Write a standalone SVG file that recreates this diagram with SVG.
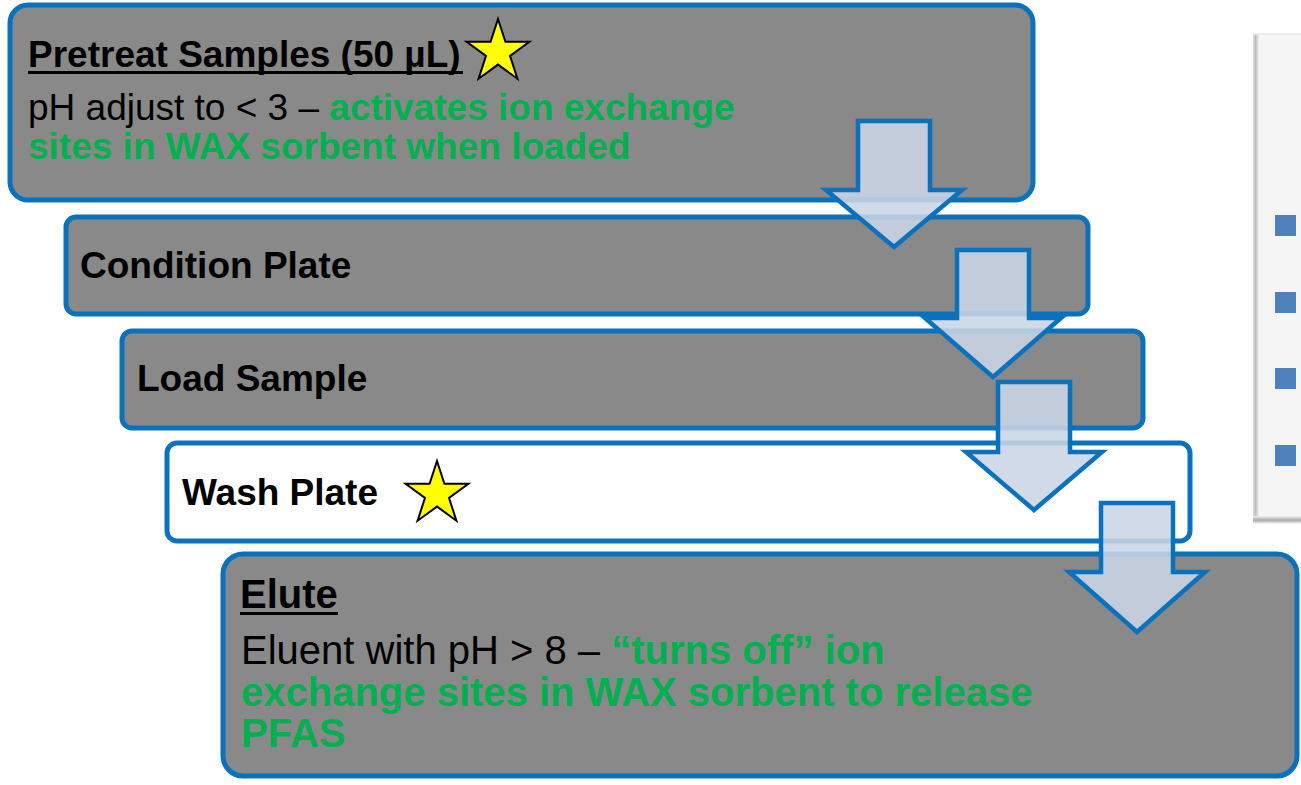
<svg xmlns="http://www.w3.org/2000/svg" width="1301" height="785" viewBox="0 0 1301 785">
  <defs>
    <style>
      .box { fill: #898989; stroke: #0a72bc; stroke-width: 5; }
      .white { fill: #ffffff; }
      .t { font-family: "Liberation Sans", Arial, sans-serif; fill: #000000; }
      .b { font-weight: bold; }
      .g { fill: #00b050; font-weight: bold; }
      .ul { fill: #000000; }
      .star { fill: #ffff00; stroke: #000000; stroke-width: 2; stroke-linejoin: miter; }
      .arrow { fill: #c9d5e6; fill-opacity: 0.88; stroke: #0a72bc; stroke-width: 4.5; stroke-linejoin: miter; }
      .bullet { fill: #4f81bd; }
    </style>
    <linearGradient id="leftShade" x1="0" y1="0" x2="1" y2="0">
      <stop offset="0" stop-color="#e2e2e2"/>
      <stop offset="0.4" stop-color="#bdbdbd"/>
      <stop offset="1" stop-color="#f2f2f2"/>
    </linearGradient>
    <linearGradient id="bottomShade" x1="0" y1="0" x2="0" y2="1">
      <stop offset="0" stop-color="#f2f2f2"/>
      <stop offset="0.6" stop-color="#a9a9a9"/>
      <stop offset="1" stop-color="#e6e6e6"/>
    </linearGradient>
  </defs>

  <rect x="0" y="0" width="1301" height="785" fill="#ffffff"/>

  <!-- right side panel -->
  <g id="side-panel">
    <rect x="1253" y="33" width="60" height="491" fill="#f5f5f5"/>
    <rect x="1253" y="33" width="60" height="2" fill="#eaeaea"/>
    <rect x="1253" y="35" width="6" height="485" fill="url(#leftShade)"/>
    <rect x="1253" y="516" width="60" height="7" fill="url(#bottomShade)"/>
    <rect class="bullet" x="1275" y="215" width="21" height="21"/>
    <rect class="bullet" x="1275" y="292" width="21" height="21"/>
    <rect class="bullet" x="1275" y="368" width="21" height="21"/>
    <rect class="bullet" x="1275" y="445" width="21" height="21"/>
  </g>

  <g id="pretreat">
    <rect class="box" x="10" y="5" width="1023" height="195" rx="18" ry="18"/>
    <text class="t b" x="28" y="67" font-size="37">Pretreat Samples (50 µL)</text>
    <rect class="ul" x="28" y="71" width="435" height="3"/>
    <polygon class="star" points="498,19 505.4,41.8 529.4,41.8 510,55.9 517.4,78.7 498,64.6 478.6,78.7 486,55.9 466.6,41.8 490.6,41.8"/>
    <text class="t" x="28" y="120" font-size="37">pH adjust to &lt; 3 – <tspan class="g">activates ion exchange</tspan></text>
    <text class="t g" x="28" y="159" font-size="37">sites in WAX sorbent when loaded</text>
  </g>

  <g id="condition">
    <rect class="box" x="66" y="217" width="1022" height="97" rx="10" ry="10"/>
    <text class="t b" x="80" y="278" font-size="37">Condition Plate</text>
  </g>

  <g id="load">
    <rect class="box" x="122" y="331" width="1021" height="97" rx="10" ry="10"/>
    <text class="t b" x="137" y="391" font-size="37">Load Sample</text>
  </g>

  <g id="wash">
    <rect class="box white" x="167" y="443" width="1023" height="98" rx="10" ry="10"/>
    <text class="t b" x="182" y="505" font-size="37">Wash Plate</text>
    <polygon class="star" points="437,461 444.4,483.8 468.4,483.8 449,497.9 456.4,520.7 437,506.6 417.6,520.7 425,497.9 405.6,483.8 429.6,483.8"/>
  </g>

  <g id="elute">
    <rect class="box" x="223" y="554" width="1074" height="222" rx="20" ry="20"/>
    <text class="t b" x="240" y="608" font-size="40">Elute</text>
    <rect class="ul" x="240" y="612" width="98" height="3"/>
    <text class="t" x="241" y="664" font-size="40">Eluent with pH &gt; 8 – <tspan class="g">“turns off” ion</tspan></text>
    <text class="t g" x="241" y="706" font-size="40">exchange sites in WAX sorbent to release</text>
    <text class="t g" x="241" y="747" font-size="40">PFAS</text>
  </g>

  <g id="connectors">
    <path class="arrow" d="M858,121 H930 V190 H962 L894,247 L826,190 H858 Z"/>
    <path class="arrow" d="M957,250 H1029 V318 H1061 L993,377 L925,318 H957 Z"/>
    <path class="arrow" d="M998,382 H1070 V452 H1102 L1034,510 L966,452 H998 Z"/>
    <path class="arrow" d="M1101,503 H1173 V572 H1205 L1137,632 L1069,572 H1101 Z"/>
  </g>
</svg>
